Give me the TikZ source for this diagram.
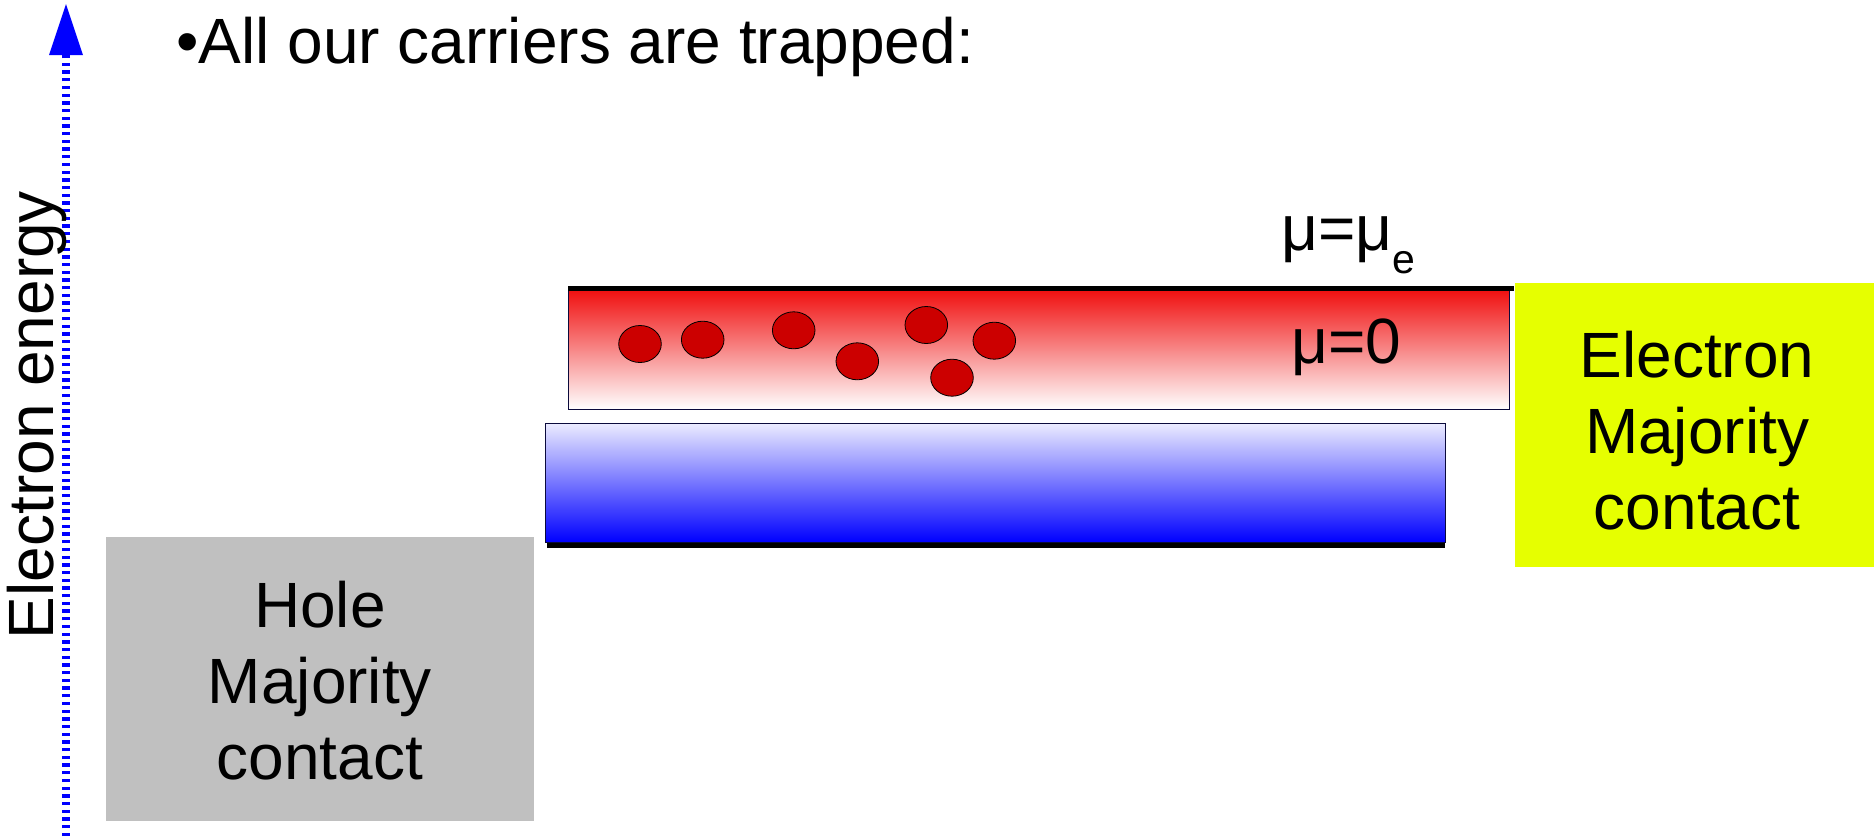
\documentclass[tikz,border=0pt]{standalone}
\usepackage{fontspec}
\setmainfont{Liberation Sans}
\usetikzlibrary{arrows.meta}

\definecolor{bandrot}{RGB}{240,16,16}
\definecolor{bandblau}{RGB}{0,0,255}
\definecolor{bandhell}{RGB}{236,236,255}
\definecolor{elektronrot}{RGB}{204,0,0}
\definecolor{kontaktgelb}{RGB}{230,255,0}
\definecolor{kontaktgrau}{RGB}{192,192,192}
\definecolor{rahmen}{RGB}{10,10,60}

\begin{document}
\begin{tikzpicture}[x=1pt,y=-1pt,
		grosstext/.style={inner sep=0pt,font=\fontsize{64}{76}\selectfont},
		kontakt/.style={grosstext,align=center,anchor=north},
		teilchen/.style={fill=elektronrot,draw=black,line width=0.8pt},
		bandkante/.style={line width=5pt}]
		
		\useasboundingbox (0,0) rectangle (1874,836);
		
		% Energieachse
		\coordinate (achseunten) at (66,836);
		\coordinate (achseoben) at (66,4);
		\draw[bandblau,line width=8pt,dash pattern=on 3.3pt off 4.4pt,
			-{Triangle[width=34pt,length=51pt,line width=0pt]}] (achseunten) -- (achseoben);
		\node[grosstext,rotate=90,anchor=base] (achse) at (53,415) {Electron energy};
		
		% Ueberschrift
		\node[grosstext,anchor=base west] (titel) at (176,63) {•All our carriers are trapped:};
		
		% Kontakte
		\fill[kontaktgrau] (106,537) rectangle (534,821);
		\fill[kontaktgelb] (1515,283) rectangle (1874,567);
		\node[kontakt] (loch) at (320,581.2) {Hole\\Majority\\contact};
		\node[kontakt] (elektron) at (1697,331.2) {Electron\\Majority\\contact};
		
		% Leitungsband und Valenzband
		\shade[top color=bandrot,bottom color=white,draw=rahmen,line width=1pt] (568,290) rectangle (1509,409);
		\shade[top color=bandhell,bottom color=bandblau,draw=rahmen,line width=1pt] (545,423) rectangle (1445,542);
		\draw[bandkante] (568,288.5) -- (1514,288.5);
		\draw[bandkante] (547,545.5) -- (1445,545.5);
		
		% Elektronen im Band
		\draw[teilchen] (640,344) ellipse (21.3 and 18.5);
		\draw[teilchen] (702.7,339.7) ellipse (21.3 and 18.5);
		\draw[teilchen] (793.7,330.3) ellipse (21.3 and 18.5);
		\draw[teilchen] (857.3,361.3) ellipse (21.3 and 18.5);
		\draw[teilchen] (926.3,325) ellipse (21.3 and 18.5);
		\draw[teilchen] (952,377.7) ellipse (21.3 and 18.5);
		\draw[teilchen] (994.3,340.7) ellipse (21.3 and 18.5);
		
		% Chemische Potentiale
		\node[grosstext,anchor=base west] (mue) at (1281,250) {μ=μ\raisebox{-23pt}{\fontsize{41}{41}\selectfont e}};
		\node[grosstext,anchor=base west] (mnull) at (1291,363) {μ=0};
		
	\end{tikzpicture}
\end{document}
